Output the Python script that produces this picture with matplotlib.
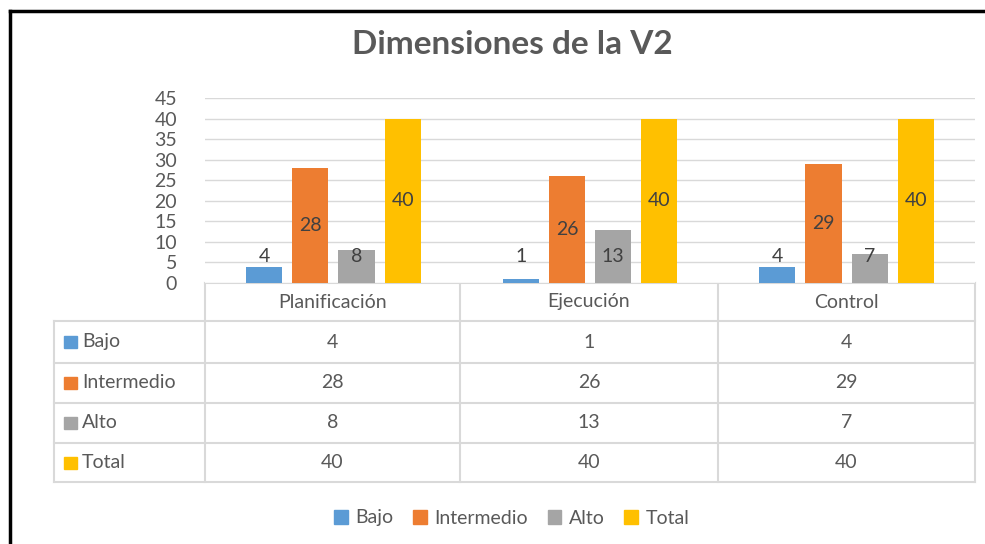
import numpy as np
import matplotlib.pyplot as plt
from matplotlib.patches import Patch

plt.rcParams['font.family'] = ['Lato', 'DejaVu Sans']

# Datos
categorias = ['Planificación', 'Ejecución', 'Control']
series = ['Bajo', 'Intermedio', 'Alto', 'Total']
bajo = [4, 1, 4]
intermedio = [28, 26, 29]
alto = [8, 13, 7]
total = [40, 40, 40]
valores = [bajo, intermedio, alto, total]
colores = ['#5B9BD5', '#ED7D31', '#A5A5A5', '#FFC000']
texto = '#595959'

W, H = 985, 544
fig = plt.figure(figsize=(W / 100, H / 100), dpi=100)

# Eje de fondo en pixeles para marco y tabla
bg = fig.add_axes([0, 0, 1, 1])
bg.set_xlim(0, W)
bg.set_ylim(H, 0)
bg.axis('off')

# marco negro
bg.plot([10, 10], [H + 5, 11], color='black', lw=2.5, solid_capstyle='projecting')
bg.plot([10, W + 5], [11, 11], color='black', lw=2.5, solid_capstyle='projecting')

# Grafico de barras
x0, x1, ytop, ybot = 205, 975, 98, 283
ax = fig.add_axes([x0 / W, 1 - ybot / H, (x1 - x0) / W, (ybot - ytop) / H])
ax.set_xlim(0, len(categorias))
ax.set_ylim(0, 45)
ax.set_yticks(np.arange(0, 46, 5))
ax.set_xticks([])
ax.yaxis.grid(True, color='#D9D9D9', lw=1)
ax.set_axisbelow(True)
for s in ax.spines.values():
    s.set_visible(False)
ax.tick_params(axis='y', length=0, labelsize=14, labelcolor=texto, pad=20)

ancho = 0.141
paso = 0.18
xc = np.arange(len(categorias)) + 0.5
for i, (nombre, vals, c) in enumerate(zip(series, valores, colores)):
    xs = xc + (i - 1.5) * paso
    ax.bar(xs, vals, width=ancho, color=c, zorder=2)
    for x, v in zip(xs, vals):
        ax.text(x, max(v / 2, 6.4), str(v), ha='center', va='center',
                fontsize=14, color='#404040', zorder=3)

# Tabla de datos
col_x = [205, 460, 718, 975]
row_y = [283, 321, 363, 403, 443, 482]
left = 54
gris = '#D9D9D9'
bg.plot([x0, x1], [row_y[0], row_y[0]], color=gris, lw=1.5)
for y in row_y[1:]:
    bg.plot([left, x1], [y, y], color=gris, lw=1.5)
for x in col_x:
    bg.plot([x, x], [row_y[0], row_y[-1]], color=gris, lw=1.5)
bg.plot([left, left], [row_y[1], row_y[-1]], color=gris, lw=1.5)

for j, cat in enumerate(categorias):
    cx = (col_x[j] + col_x[j + 1]) / 2
    bg.text(cx, (row_y[0] + row_y[1]) / 2, cat, ha='center', va='center',
            fontsize=14, color=texto)
    for i, vals in enumerate(valores):
        bg.text(cx, (row_y[i + 1] + row_y[i + 2]) / 2, str(vals[j]), ha='center',
                va='center', fontsize=14, color=texto)

for i, (nombre, c) in enumerate(zip(series, colores)):
    yc = (row_y[i + 1] + row_y[i + 2]) / 2
    bg.add_patch(plt.Rectangle((64, yc - 6), 13, 12, color=c))
    bg.text(82, yc, nombre, ha='left', va='center', fontsize=14, color=texto)

# Titulo
fig.text(512 / W, 1 - 45 / H, 'Dimensiones de la V2', ha='center', va='center',
         fontsize=24, fontweight='bold', color=texto)

# Leyenda
handles = [Patch(color=c, label=n) for n, c in zip(series, colores)]
fig.legend(handles=handles, loc='center', bbox_to_anchor=(512 / W, 1 - 518 / H),
           ncol=4, frameon=False, fontsize=14, handlelength=0.7, handleheight=0.7,
           handletextpad=0.4, columnspacing=1.0, labelcolor=texto)

fig.savefig('out.png', dpi=100)
